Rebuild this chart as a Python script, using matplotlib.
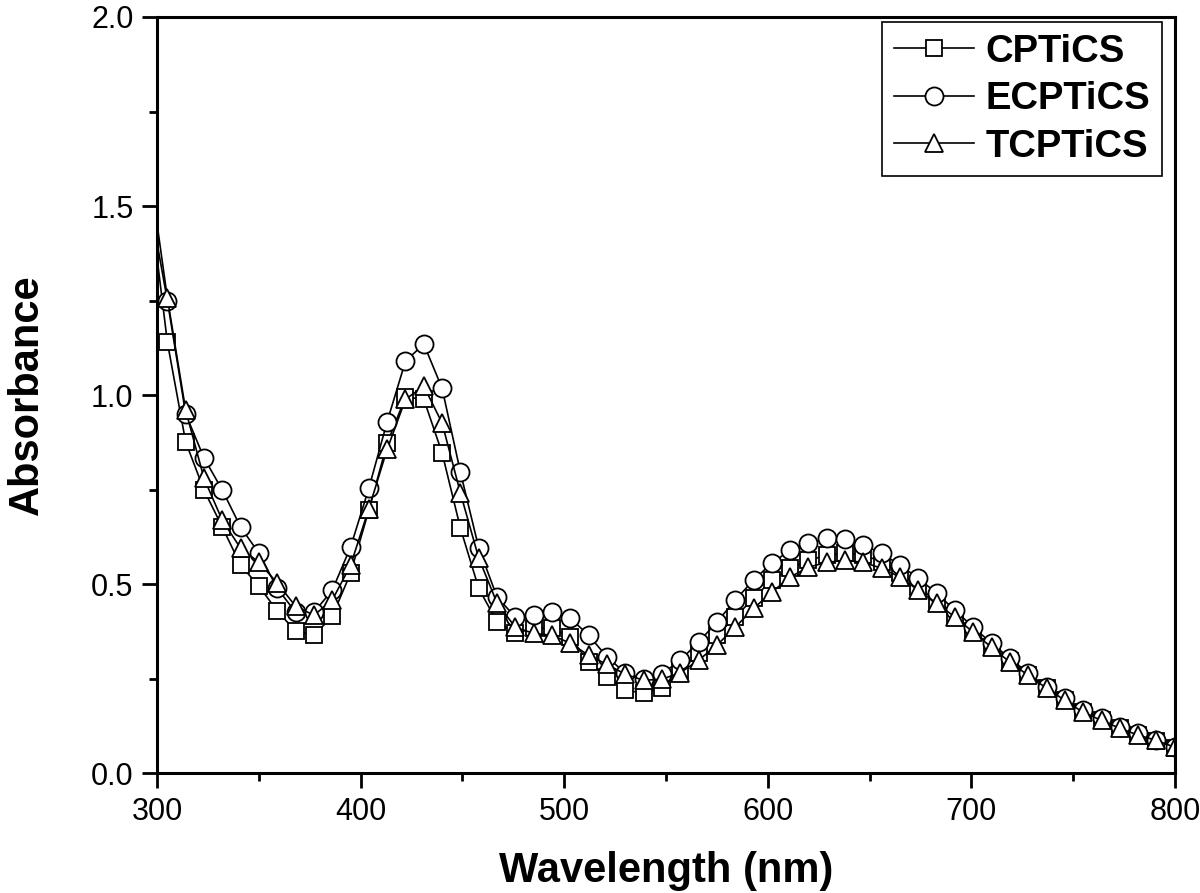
import matplotlib
matplotlib.use("Agg")
import matplotlib.pyplot as plt
from matplotlib.ticker import MultipleLocator

plt.rcParams['font.family'] = ['Liberation Sans', 'DejaVu Sans']

wavelength = [300, 305, 314, 323, 332, 341, 350, 359, 368, 377, 386, 395, 404, 413,
              422, 431, 440, 449, 458, 467, 476, 485, 494, 503, 512, 521, 530, 539,
              548, 557, 566, 575, 584, 593, 602, 611, 620, 629, 638, 647, 656, 665,
              674, 683, 692, 701, 710, 719, 728, 737, 746, 755, 764, 773, 782, 791, 800]

cpticS = [1.36, 1.14, 0.876, 0.749, 0.651, 0.550, 0.495, 0.429, 0.376, 0.365, 0.415,
          0.529, 0.696, 0.873, 0.995, 0.989, 0.847, 0.648, 0.489, 0.400, 0.370, 0.384,
          0.384, 0.360, 0.294, 0.254, 0.220, 0.212, 0.225, 0.270, 0.317, 0.365, 0.413,
          0.463, 0.511, 0.542, 0.563, 0.577, 0.582, 0.577, 0.560, 0.530, 0.492, 0.455,
          0.416, 0.376, 0.335, 0.296, 0.260, 0.226, 0.194, 0.162, 0.141, 0.119, 0.101,
          0.086, 0.068]

ecpticS = [1.40, 1.25, 0.95, 0.834, 0.749, 0.651, 0.582, 0.489, 0.426, 0.426, 0.484,
           0.598, 0.754, 0.930, 1.090, 1.135, 1.018, 0.796, 0.596, 0.466, 0.413, 0.418,
           0.426, 0.410, 0.365, 0.308, 0.265, 0.250, 0.263, 0.299, 0.347, 0.400, 0.458,
           0.511, 0.556, 0.590, 0.609, 0.621, 0.619, 0.603, 0.582, 0.550, 0.516, 0.476,
           0.431, 0.386, 0.344, 0.304, 0.265, 0.228, 0.198, 0.167, 0.146, 0.122, 0.106,
           0.087, 0.069]

tcpticS = [1.45, 1.257, 0.960, 0.780, 0.669, 0.595, 0.558, 0.503, 0.442, 0.418, 0.458,
           0.550, 0.700, 0.857, 0.989, 1.024, 0.926, 0.741, 0.569, 0.450, 0.386, 0.370,
           0.365, 0.344, 0.312, 0.288, 0.262, 0.246, 0.249, 0.266, 0.299, 0.339, 0.386,
           0.436, 0.479, 0.519, 0.545, 0.558, 0.563, 0.558, 0.542, 0.519, 0.484, 0.450,
           0.413, 0.373, 0.333, 0.294, 0.259, 0.225, 0.193, 0.161, 0.140, 0.119, 0.101,
           0.087, 0.069]

series = [("CPTiCS", cpticS, "s", 11.5),
          ("ECPTiCS", ecpticS, "o", 13),
          ("TCPTiCS", tcpticS, "^", 13.5)]

fig = plt.figure(figsize=(12, 8.93), dpi=100)
ax = fig.add_axes([0.131, 0.134, 0.848, 0.847])

for name, vals, mk, ms in series:
    ax.plot(wavelength, vals, color='black', lw=1.2, marker=mk, markersize=ms,
            markerfacecolor='white', markeredgecolor='black', markeredgewidth=1.3,
            markevery=slice(1, None), label=name, clip_on=True)

ax.set_xlim(300, 800)
ax.set_ylim(0, 2.0)
ax.xaxis.set_major_locator(MultipleLocator(100))
ax.xaxis.set_minor_locator(MultipleLocator(50))
ax.yaxis.set_major_locator(MultipleLocator(0.5))
ax.yaxis.set_minor_locator(MultipleLocator(0.25))
ax.yaxis.set_major_formatter(plt.FuncFormatter(lambda v, p: f"{v:.1f}"))

for s in ax.spines.values():
    s.set_linewidth(2.2)
ax.tick_params(which='major', direction='out', length=11, width=2, labelsize=22, pad=6)
ax.tick_params(which='minor', direction='out', length=6, width=2)

ax.set_xlabel("Wavelength (nm)", fontsize=30, fontweight='bold', labelpad=17)
ax.set_ylabel("Absorbance", fontsize=30, fontweight='bold', labelpad=32)

leg = ax.legend(loc='upper right', bbox_to_anchor=(0.987, 0.993),
                prop={'weight': 'bold', 'size': 27.5},
                frameon=True, fancybox=False, edgecolor='black', handlelength=2.1,
                handletextpad=0.3, labelspacing=0.3, borderpad=0.3,
                borderaxespad=0.0, framealpha=1)
leg.get_frame().set_linewidth(1.2)

fig.savefig("out.png", dpi=100)
